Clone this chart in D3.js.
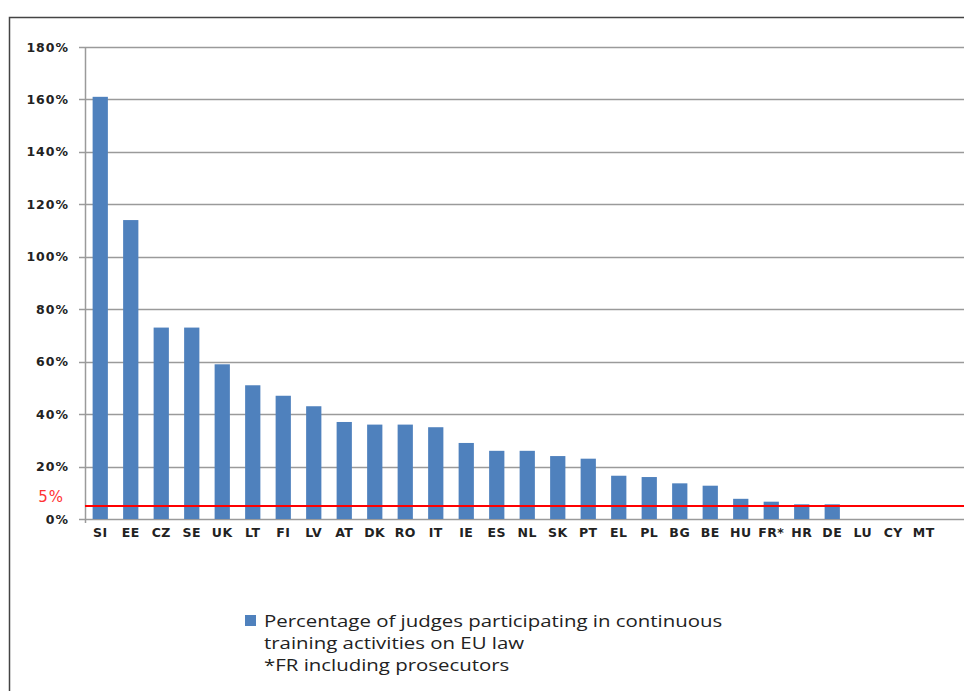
<!DOCTYPE html>
<html>
<head>
<meta charset="utf-8">
<script src="https://cdn.jsdelivr.net/npm/d3@7"></script>
<style>
  body { margin: 0; background: #fff; }
  svg { display: block; }
</style>
</head>
<body>
<div id="chart"></div>
<script>
const countries = ['SI', 'EE', 'CZ', 'SE', 'UK', 'LT', 'FI', 'LV', 'AT', 'DK', 'RO', 'IT', 'IE', 'ES',
    'NL', 'SK', 'PT', 'EL', 'PL', 'BG', 'BE', 'HU', 'FR*', 'HR', 'DE', 'LU', 'CY', 'MT'];
const values = [161, 114, 73, 73, 59, 51, 47, 43, 37, 36, 36, 35, 29, 26,
    26, 24, 23, 16.5, 16, 13.6, 12.7, 7.7, 6.6, 5.6, 5.6, 0, 0, 0];
const yTicks = [0, 20, 40, 60, 80, 100, 120, 140, 160, 180];
const threshold = 5;
const legendLines = ['Percentage of judges participating in continuous', 'training activities on EU law', '*FR including prosecutors'];

const width = 964, height = 691;
const plotLeft = 85, plotTop = 47, plotBottom = 519, plotRight = 939;

const svg = d3.select('#chart').append('svg')
    .attr('width', width)
    .attr('height', height);

// outer frame (cut off at the right and bottom)
svg.append('path')
    .attr('d', `M9.5,${height} V17.5 H${width}`)
    .attr('fill', 'none')
    .attr('stroke', '#444')
    .attr('stroke-width', 1.5);

const x = d3.scaleBand()
    .domain(countries)
    .range([plotLeft, plotRight])
    .paddingInner(0.5)
    .paddingOuter(0.25);

const y = d3.scaleLinear()
    .domain([0, 180])
    .range([plotBottom, plotTop]);

// gridlines
svg.append('g')
    .selectAll('line')
    .data(yTicks)
    .enter().append('line')
    .attr('x1', plotLeft - 6)
    .attr('x2', width)
    .attr('y1', d => Math.round(y(d)) + 0.5)
    .attr('y2', d => Math.round(y(d)) + 0.5)
    .attr('stroke', '#9a9a9a')
    .attr('stroke-width', 1.5);

// y axis line
svg.append('line')
    .attr('x1', plotLeft + 0.5).attr('x2', plotLeft + 0.5)
    .attr('y1', plotTop).attr('y2', plotBottom + 4)
    .attr('stroke', '#9a9a9a')
    .attr('stroke-width', 1.5);

const yAxis = svg.append('g')
    .attr('transform', `translate(${plotLeft},0)`)
    .call(d3.axisLeft(y).tickValues(yTicks).tickSize(0).tickPadding(16).tickFormat(d => d + '%'));
yAxis.select('.domain').remove();
yAxis.selectAll('text')
    .attr('font-family', 'DejaVu Sans, sans-serif')
    .attr('font-size', 12.5)
    .attr('font-weight', 'bold')
    .attr('letter-spacing', 1)
    .attr('fill', '#222');

// bars
svg.append('g')
    .selectAll('rect')
    .data(values)
    .enter().append('rect')
    .attr('x', (d, i) => x(countries[i]))
    .attr('y', d => y(d))
    .attr('width', x.bandwidth())
    .attr('height', d => y(0) - y(d))
    .attr('fill', '#4f81bd');

// category labels
const xAxis = svg.append('g')
    .attr('transform', `translate(0,${plotBottom})`)
    .call(d3.axisBottom(x).tickSize(0).tickPadding(9));
xAxis.select('.domain').remove();
xAxis.selectAll('text')
    .attr('font-family', 'DejaVu Sans, sans-serif')
    .attr('font-size', 12.5)
    .attr('font-weight', 'bold')
    .attr('letter-spacing', 0.5)
    .attr('fill', '#222');

// 5% threshold line
svg.append('line')
    .attr('x1', plotLeft)
    .attr('x2', width)
    .attr('y1', y(threshold))
    .attr('y2', y(threshold))
    .attr('stroke', '#ff0000')
    .attr('stroke-width', 2);

svg.append('text')
    .attr('x', 64)
    .attr('y', y(threshold) - 4)
    .attr('text-anchor', 'end')
    .attr('font-family', 'DejaVu Sans, sans-serif')
    .attr('font-size', 15)
    .attr('letter-spacing', 1)
    .attr('fill', '#ff3333')
    .text(threshold + '%');

// legend
svg.append('rect')
    .attr('x', 245)
    .attr('y', 615)
    .attr('width', 11)
    .attr('height', 11)
    .attr('fill', '#4f81bd');

svg.append('g')
    .attr('transform', 'translate(264,0) scale(1.2,1)')
    .selectAll('text')
    .data(legendLines)
    .enter().append('text')
    .attr('x', 0)
    .attr('y', (d, i) => 627 + i * 22)
    .attr('font-family', 'Open Sans, sans-serif')
    .attr('font-size', 17)
    .attr('fill', '#222')
    .text(d => d);
</script>
</body>
</html>
